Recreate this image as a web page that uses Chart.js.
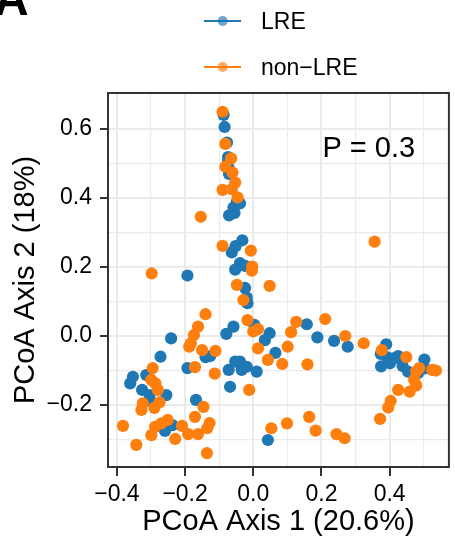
<!DOCTYPE html>
<html>
<head>
<meta charset="utf-8">
<script src="https://cdn.jsdelivr.net/npm/chart.js@4/dist/chart.umd.min.js"></script>
<style>
  html, body { margin: 0; padding: 0; background: #fff; }
  #wrap { width: 455px; height: 540px; position: relative; }
</style>
</head>
<body>
<div id="wrap"><canvas id="c" width="455" height="540"></canvas></div>
<script>
// ---- data ----
const seriesNames = ['LRE', 'non\u2212LRE'];
const seriesColors = ['#1f77b4', '#ff7f0e'];

const lreX = [-0.087,-0.084,-0.077,-0.074,-0.074,-0.072,-0.071,-0.048,-0.039,-0.058,-0.071,-0.055,-0.032,-0.052,-0.063,-0.039,-0.024,-0.053,-0.193,-0.024,-0.019,-0.017,-0.058,-0.079,0.003,0.048,0.034,-0.241,-0.140,-0.126,0.065,-0.272,-0.193,-0.072,-0.053,-0.039,-0.019,-0.034,0.010,-0.353,-0.361,-0.314,-0.326,-0.304,-0.255,-0.304,-0.068,-0.168,-0.259,-0.237,0.043,0.157,0.188,0.237,0.277,0.390,0.374,0.394,0.375,0.401,0.415,0.425,0.438,0.454,0.502,0.503,0.483];
const lreY = [0.640,0.605,0.560,0.518,0.504,0.486,0.469,0.388,0.384,0.372,0.349,0.356,0.277,0.260,0.242,0.211,0.203,0.192,0.175,0.139,0.111,0.095,0.027,0.006,0.032,0.008,-0.012,-0.007,-0.061,-0.058,-0.049,-0.060,-0.093,-0.098,-0.074,-0.074,-0.089,-0.098,-0.103,-0.118,-0.137,-0.113,-0.156,-0.171,-0.171,-0.188,-0.147,-0.185,-0.275,-0.258,-0.301,0.034,-0.004,-0.014,-0.031,-0.024,-0.052,-0.062,-0.088,-0.079,-0.064,-0.058,-0.087,-0.103,-0.068,-0.094,-0.108];

const nonX = [-0.090,-0.082,-0.065,-0.082,-0.061,-0.053,-0.090,-0.063,-0.046,-0.154,-0.090,-0.007,-0.003,-0.004,-0.298,-0.048,0.048,-0.029,-0.140,-0.162,-0.174,-0.183,-0.188,-0.150,-0.111,-0.017,0.000,0.014,0.014,0.043,-0.295,-0.171,-0.113,-0.299,-0.287,-0.280,-0.324,-0.275,-0.328,-0.290,-0.012,-0.146,-0.382,-0.343,-0.299,-0.288,-0.270,-0.251,-0.229,-0.209,-0.191,-0.171,-0.162,-0.128,-0.135,-0.136,0.053,0.126,0.111,0.211,0.270,0.324,0.101,0.085,0.159,0.377,0.449,0.487,0.525,0.536,0.478,0.472,0.478,0.459,0.425,0.403,0.396,0.372,0.099,0.164,0.183,0.244,0.268,0.356];
const nonY = [0.649,0.556,0.514,0.490,0.473,0.444,0.423,0.425,0.401,0.345,0.261,0.247,0.201,0.189,0.181,0.148,0.145,0.104,0.063,0.027,0.003,-0.021,-0.031,-0.041,-0.043,0.046,0.013,0.020,-0.036,-0.069,-0.093,-0.090,-0.109,-0.127,-0.137,-0.156,-0.195,-0.192,-0.214,-0.208,-0.156,-0.205,-0.260,-0.315,-0.287,-0.263,-0.253,-0.243,-0.298,-0.260,-0.284,-0.234,-0.284,-0.252,-0.267,-0.339,-0.267,0.041,0.011,0.049,0.000,-0.021,-0.031,-0.081,-0.082,-0.041,-0.061,-0.093,-0.098,-0.100,-0.103,-0.127,-0.143,-0.161,-0.156,-0.188,-0.207,-0.240,-0.253,-0.234,-0.274,-0.284,-0.296,0.273];

const xMajorTicks = [-0.4, -0.2, 0.0, 0.2, 0.4];
const xMinorTicks = [-0.3, -0.1, 0.1, 0.3, 0.5];
const yMajorTicks = [-0.2, 0.0, 0.2, 0.4, 0.6];
const yMinorTicks = [-0.3, -0.1, 0.1, 0.3, 0.5];

const xTitle = 'PCoA Axis 1 (20.6%)';
const yTitle = 'PCoA Axis 2 (18%)';
const pLabel = 'P = 0.3';
const panelLetter = 'A';

// ---- helpers ----
const FONT = '"Liberation Sans", Arial, Helvetica, sans-serif';
function toPoints(xs, ys) { return xs.map((x, i) => ({ x: x, y: ys[i] })); }
function fmt(v) { const s = (Math.abs(v) < 1e-9 ? 0 : v).toFixed(1); return s.replace('-', '\u2212'); }
function isMajor(list, v) { return list.some(m => Math.abs(m - v) < 1e-6); }
function tickList(major, minor) { return major.concat(minor).sort((a, b) => a - b).map(v => ({ value: v })); }

const overlay = {
  id: 'overlay',
  afterDraw(chart) {
    const ctx = chart.ctx;
    const a = chart.chartArea;
    const xs = chart.scales.x, ys = chart.scales.y;
    ctx.save();
    // panel frame
    ctx.strokeStyle = '#333333';
    ctx.lineWidth = 2;
    ctx.strokeRect(a.left, a.top, a.right - a.left, a.bottom - a.top);
    // P value annotation
    ctx.fillStyle = '#000';
    ctx.font = '29px ' + FONT;
    ctx.textAlign = 'left';
    ctx.textBaseline = 'middle';
    ctx.fillText(pLabel, xs.getPixelForValue(0.203), ys.getPixelForValue(0.541));
    // legend
    const legY = [21, 67];
    chart.data.datasets.forEach((ds, i) => {
      const y = legY[i];
      ctx.strokeStyle = ds.backgroundColor;
      ctx.lineWidth = 2;
      ctx.beginPath(); ctx.moveTo(204, y); ctx.lineTo(241, y); ctx.stroke();
      ctx.globalAlpha = 0.65;
      ctx.fillStyle = ds.backgroundColor;
      ctx.beginPath(); ctx.arc(222.7, y, 5, 0, Math.PI * 2); ctx.fill();
      ctx.globalAlpha = 1;
      ctx.fillStyle = '#000';
      ctx.font = '23px ' + FONT;
      ctx.textAlign = 'left';
      ctx.textBaseline = 'middle';
      ctx.fillText(ds.label, 261, y + 1.5);
    });
    // panel letter (cropped at top-left)
    ctx.fillStyle = '#000';
    ctx.font = 'bold 48px ' + FONT;
    ctx.textAlign = 'left';
    ctx.textBaseline = 'alphabetic';
    ctx.fillText(panelLetter, -6, 15);
    ctx.restore();
  }
};

new Chart(document.getElementById('c'), {
  type: 'scatter',
  data: {
    datasets: [
      { label: seriesNames[0], data: toPoints(lreX, lreY), backgroundColor: seriesColors[0], borderWidth: 0, pointRadius: 6.1, order: 1 },
      { label: seriesNames[1], data: toPoints(nonX, nonY), backgroundColor: seriesColors[1], borderWidth: 0, pointRadius: 6.1, order: 0 }
    ]
  },
  options: {
    responsive: false,
    animation: false,
    devicePixelRatio: 1,
    layout: { padding: { top: 93, right: 2, left: 0, bottom: 0 } },
    plugins: { legend: { display: false }, tooltip: { enabled: false }, title: { display: false } },
    scales: {
      x: {
        type: 'linear',
        min: -0.4261, max: 0.5739,
        afterBuildTicks: s => { s.ticks = tickList(xMajorTicks, xMinorTicks); },
        afterFit: s => { s.height = 73; },
        border: { display: false },
        grid: {
          color: '#ebebeb',
          lineWidth: c => isMajor(xMajorTicks, c.tick.value) ? 2 : 1.2,
          tickColor: c => isMajor(xMajorTicks, c.tick.value) ? '#333333' : 'rgba(0,0,0,0)',
          tickLength: 9,
          tickWidth: 2
        },
        ticks: {
          autoSkip: false, maxRotation: 0,
          color: '#000', padding: 5,
          font: { family: FONT, size: 23 },
          callback: v => isMajor(xMajorTicks, v) ? fmt(v) : ''
        },
        title: { display: true, text: xTitle, color: '#000', font: { family: FONT, size: 29 }, padding: { top: 0, bottom: 1 } }
      },
      y: {
        type: 'linear',
        min: -0.3792, max: 0.7033,
        afterBuildTicks: s => { s.ticks = tickList(yMajorTicks, yMinorTicks); },
        afterFit: s => { s.width = 108; },
        border: { display: false },
        grid: {
          color: '#ebebeb',
          lineWidth: c => isMajor(yMajorTicks, c.tick.value) ? 2 : 1.2,
          tickColor: c => isMajor(yMajorTicks, c.tick.value) ? '#333333' : 'rgba(0,0,0,0)',
          tickLength: 8,
          tickWidth: 2
        },
        ticks: {
          autoSkip: false,
          color: '#000', padding: 8,
          font: { family: FONT, size: 23 },
          callback: v => isMajor(yMajorTicks, v) ? fmt(v) : ''
        },
        title: { display: true, text: yTitle, color: '#000', font: { family: FONT, size: 29 }, padding: { top: 9, bottom: 0 } }
      }
    }
  },
  plugins: [overlay]
});
</script>
</body>
</html>
